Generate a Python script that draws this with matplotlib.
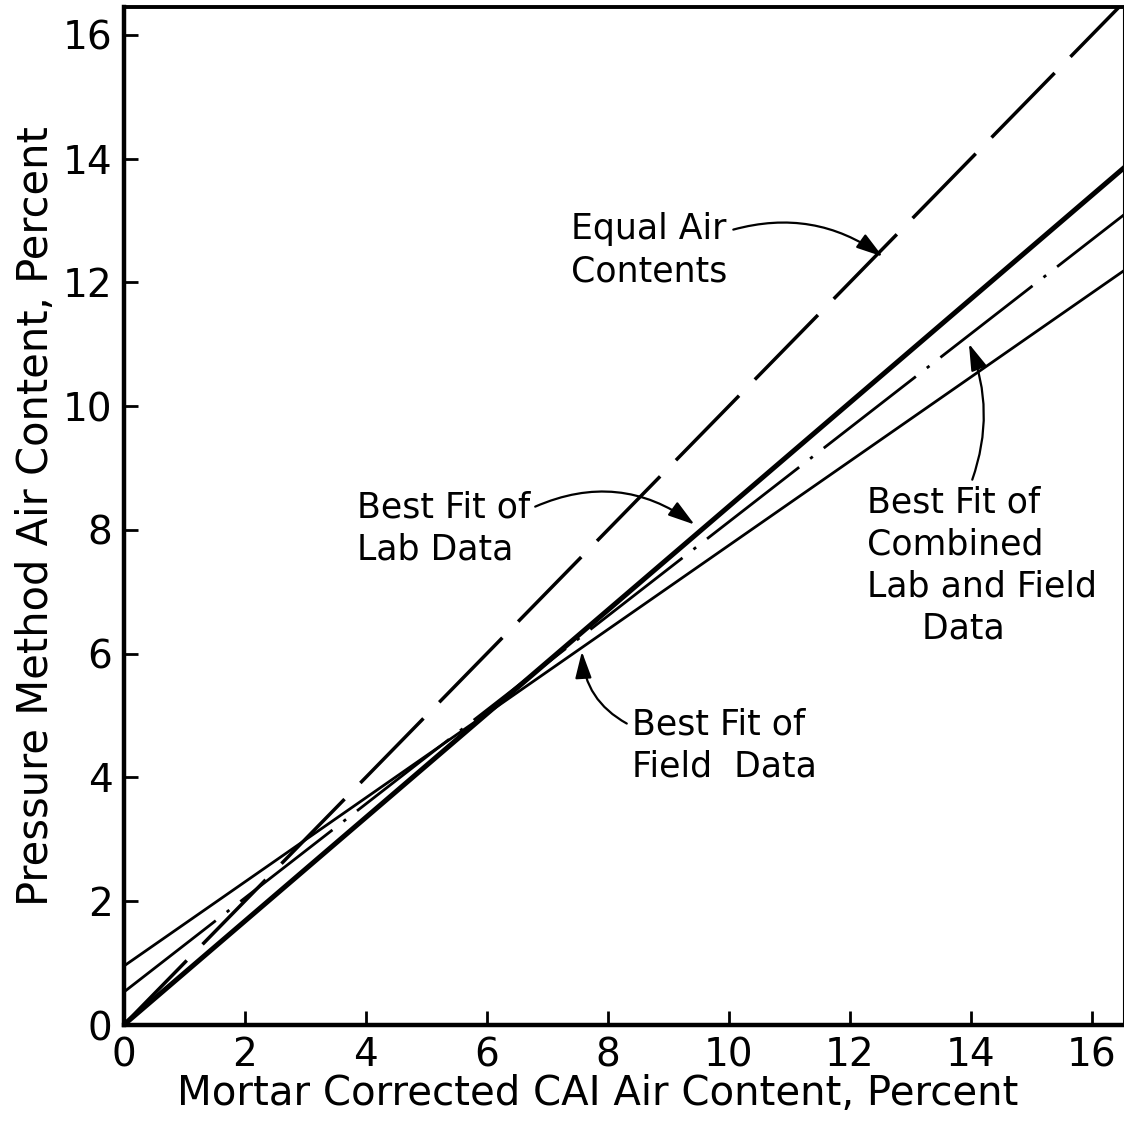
import matplotlib
matplotlib.use("Agg")
import matplotlib.pyplot as plt
import numpy as np

# Data: fitted lines (intercept, slope)
x_range = [0.0, 16.6]
equal_line = (0.0, 1.0)
lab_fit = (0.0, 0.838)
combined_fit = (0.53, 0.76)
field_fit = (0.95, 0.68)
ticks = [0, 2, 4, 6, 8, 10, 12, 14, 16]
tick_labels = ["0", "2", "4", "6", "8", "10", "12", "14", "16"]

plt.rcParams['font.family'] = ['DejaVu Sans']
fig = plt.figure(figsize=(11.24, 11.28), dpi=100)
ax = fig.add_axes([0.110, 0.0913, 0.890, 0.9025])

xs = np.array(x_range)

def line(fit):
    return fit[0] + fit[1] * xs

ax.plot(xs, line(equal_line), color='black', lw=2.5, dashes=(26, 6.5), solid_capstyle='butt', dash_capstyle='butt')
ax.plot(xs, line(lab_fit), color='black', lw=3.6, solid_capstyle='butt')
ax.plot(xs, line(combined_fit), color='black', lw=2.0, dashes=(42, 5, 1.2, 5))
ax.plot(xs, line(field_fit), color='black', lw=2.0)

ax.set_xlim(0, 16.53)
ax.set_ylim(0, 16.45)
ax.set_xticks(ticks)
ax.set_xticklabels(tick_labels)
ax.set_yticks(ticks)
ax.set_yticklabels(tick_labels)
ax.tick_params(direction='in', length=10, width=2, labelsize=28, pad=8,
               top=False, right=False)
for s in ['left', 'bottom']:
    ax.spines[s].set_linewidth(3.2)
ax.spines['top'].set_linewidth(2.8)
ax.spines['right'].set_linewidth(1.5)

ax.set_xlabel("Mortar Corrected CAI Air Content, Percent", fontsize=29, labelpad=2)
ax.set_ylabel("Pressure Method Air Content, Percent", fontsize=30, labelpad=4)
ax.xaxis.set_label_coords(0.474, -0.048)

fs = 25
ap = dict(arrowstyle='-|>,head_length=0.65,head_width=0.2', color='black', lw=1.6)
ax.annotate("Equal Air\nContents", xy=(12.58, 12.39), xytext=(7.4, 12.52),
            fontsize=fs, ha='left', va='center', linespacing=1.3,
            arrowprops=dict(ap, connectionstyle='arc3,rad=-0.25',
                            relpos=(1.0, 0.75)))
ax.annotate("Best Fit of\nLab Data", xy=(9.47, 8.06), xytext=(3.85, 8.03),
            fontsize=fs, ha='left', va='center', linespacing=1.3,
            arrowprops=dict(ap, connectionstyle='arc3,rad=-0.3',
                            relpos=(1.0, 0.75)))
ax.annotate("Best Fit of\nField  Data", xy=(7.57, 6.08), xytext=(8.4, 4.52),
            fontsize=fs, ha='left', va='center', linespacing=1.3,
            arrowprops=dict(ap, connectionstyle='arc3,rad=-0.3',
                            relpos=(0.0, 0.75)))
ax.annotate("Best Fit of\nCombined\nLab and Field\n     Data", xy=(13.95, 11.05),
            xytext=(12.28, 7.43),
            fontsize=fs, ha='left', va='center', linespacing=1.3,
            arrowprops=dict(ap, connectionstyle='arc3,rad=0.2',
                            relpos=(0.45, 1.0)))

fig.savefig("out.png", dpi=100)
